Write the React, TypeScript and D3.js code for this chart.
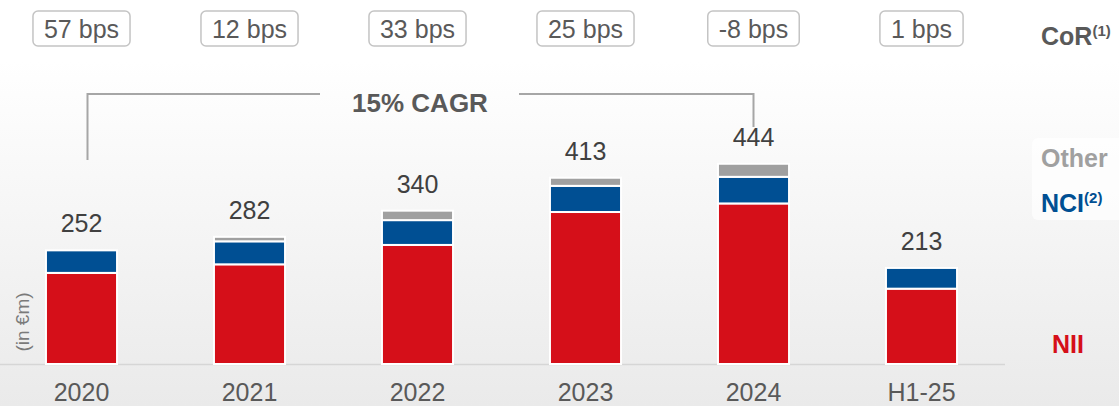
import React, { useEffect, useRef } from "react";
import * as d3 from "d3";

const categories = ["2020", "2021", "2022", "2023", "2024", "H1-25"];
const nii = [202, 221, 264, 337, 356, 167];
const nci = [50, 51, 55, 58, 59, 46];
const other = [0, 10, 21, 18, 29, 0];
const totals = [252, 282, 340, 413, 444, 213];
const cor = ["57 bps", "12 bps", "33 bps", "25 bps", "-8 bps", "1 bps"];
const cagrLabel = "15% CAGR";

const RED = "#d50f19";
const BLUE = "#004f93";
const GREY = "#a0a0a0";

const width = 1119;
const height = 406;
const baseY = 364;

export default function App() {
  const svgRef = useRef(null);

  useEffect(() => {
    const svg = d3.select(svgRef.current);
    svg.selectAll("*").remove();
    svg.attr("width", width).attr("height", height);

    const font = "'Liberation Sans', Arial, sans-serif";

    // background
    const defs = svg.append("defs");
    const bg = defs
      .append("linearGradient")
      .attr("id", "bg")
      .attr("x1", 0)
      .attr("y1", 0)
      .attr("x2", 0)
      .attr("y2", 1);
    bg.append("stop").attr("offset", "15%").attr("stop-color", "#ffffff");
    bg.append("stop").attr("offset", "100%").attr("stop-color", "#eaeaea");
    svg
      .append("rect")
      .attr("width", width)
      .attr("height", height)
      .attr("fill", "url(#bg)");

    const x = d3
      .scaleBand()
      .domain(categories)
      .range([-2.5, 1005.5])
      .paddingInner(0.577)
      .paddingOuter(0.2885);
    const y = d3
      .scaleLinear()
      .domain([0, 444])
      .range([baseY, baseY - 444 * 0.451]);

    // baseline
    svg
      .append("line")
      .attr("x1", 0)
      .attr("x2", 1005)
      .attr("y1", baseY + 0.5)
      .attr("y2", baseY + 0.5)
      .attr("stroke", "#d6d6d6")
      .attr("stroke-width", 1.5);

    // stacked bars
    const series = d3
      .stack()
      .keys(["nii", "nci", "other"])(
        categories.map((c, i) => ({ cat: c, nii: nii[i], nci: nci[i], other: other[i] })),
      );
    const colors = { nii: RED, nci: BLUE, other: GREY };

    svg
      .append("g")
      .selectAll("g")
      .data(series)
      .join("g")
      .attr("fill", (s) => colors[s.key])
      .selectAll("rect")
      .data((s) => s.filter((d) => d[1] - d[0] > 0))
      .join("rect")
      .attr("x", (d) => x(d.data.cat))
      .attr("width", x.bandwidth())
      .attr("y", (d) => y(d[1]))
      .attr("height", (d) => y(d[0]) - y(d[1]))
      .attr("stroke", "#ffffff")
      .attr("stroke-width", 2);

    // total labels
    svg
      .append("g")
      .selectAll("text")
      .data(categories)
      .join("text")
      .attr("x", (c) => x(c) + x.bandwidth() / 2)
      .attr("y", (c, i) => y(totals[i]) - 18)
      .attr("text-anchor", "middle")
      .attr("font-family", font)
      .attr("font-size", 25)
      .attr("fill", "#404040")
      .text((c, i) => totals[i]);

    // x labels
    svg
      .append("g")
      .selectAll("text")
      .data(categories)
      .join("text")
      .attr("x", (c) => x(c) + x.bandwidth() / 2)
      .attr("y", 401)
      .attr("text-anchor", "middle")
      .attr("font-family", font)
      .attr("font-size", 25)
      .attr("fill", "#595959")
      .text((c) => c);

    // CoR boxes
    const boxes = svg
      .append("g")
      .selectAll("g")
      .data(categories)
      .join("g")
      .attr("transform", (c) => `translate(${x(c) + x.bandwidth() / 2},0)`);
    const boxRects = boxes.append("rect");
    const boxTexts = boxes
      .append("text")
      .attr("y", 37.5)
      .attr("text-anchor", "middle")
      .attr("font-family", font)
      .attr("font-size", 25)
      .attr("fill", "#595959")
      .text((c, i) => cor[i]);
    boxTexts.each(function (c, i) {
      const w = this.getComputedTextLength();
      d3.select(boxRects.nodes()[i])
        .attr("x", -w / 2 - 11)
        .attr("y", 11)
        .attr("width", w + 22)
        .attr("height", 35)
        .attr("rx", 5)
        .attr("fill", "#ffffff")
        .attr("stroke", "#c4c4c4")
        .attr("stroke-width", 1.5);
    });

    // CAGR bracket
    const x0 = x("2020") + x.bandwidth() / 2 + 6;
    const x1 = x("2024") + x.bandwidth() / 2;
    const lineY = 94;
    const bracket = svg
      .append("g")
      .attr("fill", "none")
      .attr("stroke", "#a6a6a6")
      .attr("stroke-width", 2);
    bracket
      .append("path")
      .attr("d", `M${x0},160V${lineY}H320`);
    bracket
      .append("path")
      .attr("d", `M519,${lineY}H${x1}V127`);
    svg
      .append("text")
      .attr("x", 420)
      .attr("y", 112)
      .attr("text-anchor", "middle")
      .attr("font-family", font)
      .attr("font-size", 26)
      .attr("font-weight", "bold")
      .attr("fill", "#595959")
      .text(cagrLabel);

    // y label
    svg
      .append("text")
      .attr("transform", "translate(29,322) rotate(-90)")
      .attr("text-anchor", "middle")
      .attr("font-family", font)
      .attr("font-size", 19)
      .attr("fill", "#7a7a7a")
      .text("(in €m)");

    // legend
    svg
      .append("rect")
      .attr("x", 1032)
      .attr("y", 138)
      .attr("width", 100)
      .attr("height", 82)
      .attr("rx", 6)
      .attr("fill", "#ffffff")
      .attr("opacity", 0.7);

    const legend = [
      { label: "CoR", sup: "(1)", color: "#595959", y: 45 },
      { label: "Other", sup: "", color: GREY, y: 167 },
      { label: "NCI", sup: "(2)", color: BLUE, y: 211.5 },
      { label: "NII", sup: "", color: RED, y: 353 },
    ];
    const lt = svg
      .append("g")
      .selectAll("text")
      .data(legend)
      .join("text")
      .attr("x", (d) => (d.label === "NII" ? 1052 : 1041))
      .attr("y", (d) => d.y)
      .attr("font-family", font)
      .attr("font-weight", "bold")
      .attr("font-size", 25)
      .attr("fill", (d) => d.color);
    lt.append("tspan").text((d) => d.label);
    lt.append("tspan")
      .attr("font-size", 15)
      .attr("dy", -9)
      .text((d) => d.sup);
  }, []);

  return (
    <svg
      ref={svgRef}
      style={{ position: "absolute", left: 0, top: 0, display: "block" }}
    ></svg>
  );
}
